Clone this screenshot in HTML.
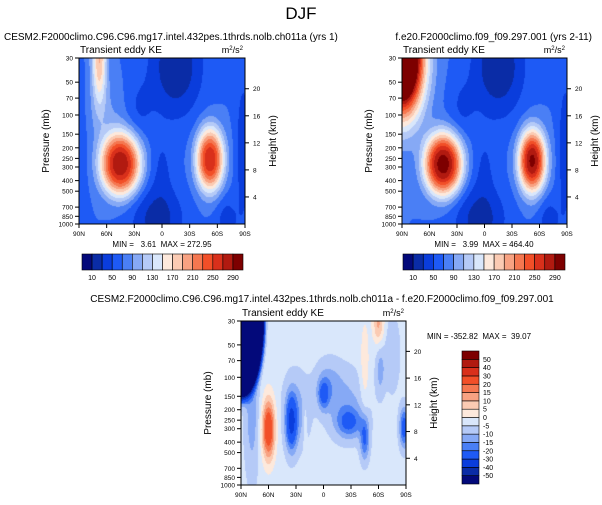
<!DOCTYPE html>
<html><head><meta charset="utf-8"><style>
body{margin:0;width:602px;height:505px;background:#fff;position:relative;overflow:hidden;font-family:"Liberation Sans",sans-serif;}
.t{position:absolute;white-space:nowrap;color:#000;}
canvas{position:absolute;}
text{white-space:pre;}
</style></head><body>
<div class="t" style="left:0;width:602px;text-align:center;top:4px;font-size:17px;">DJF</div>
<svg id="svg" width="602" height="505" style="position:absolute;left:0;top:0"></svg>
<script>
// ---------- data ----------
const latTicks = ["90N","60N","30N","0","30S","60S","90S"];
const presTicks = [30,50,70,100,150,200,250,300,400,500,700,850,1000];
const hgtTicks = [4,8,12,16,20];
const levelsKE = [10,30,50,70,90,110,130,150,170,190,210,230,250,270,290];
const levelsKELabels = ["10","50","90","130","170","210","250","290"];
const levelsDiff = [-50,-40,-30,-20,-15,-10,-5,0,5,10,15,20,30,40,50];
const colors = ["#03097a","#0a2ca6","#0a3ddc","#1e5af5","#4a7ff5","#86a9f5","#b5caf7","#d9e7fb","#fde9dc","#fbcbb3","#f8a282","#f57750","#f24f28","#d9301b","#b11a10","#7d0000"];
// field descriptors: lat centre, vertical pos (0 top..1 bottom), amplitude, lat width, vertical width, shape exponent
const baseTL = 70;
const blobsTL = [
 [45,0.64,215,22,0.19,2.6],[-52,0.61,200,15,0.19,2.4],[68,0.0,120,8,0.28,2],
 [-15,0.05,-60,28,0.3,2],[5,0.97,-50,28,0.2,2],[-88,0.55,-35,8,0.45,2],
 [0,0.65,-20,12,0.2,2],[25,0.3,-20,15,0.18,2],[-70,0.98,-30,12,0.15,2],[88,0.6,-12,8,0.5,2],
 [60,0.35,20,20,0.2,2]];
const baseTR = 70;
const blobsTR = [
 [45,0.64,230,21,0.19,2.6],[-52,0.62,225,15,0.19,2.4],[90,0.0,430,22,0.32,2],
 [-15,0.05,-60,28,0.3,2],[5,0.97,-50,28,0.2,2],[-88,0.55,-35,8,0.45,2],
 [0,0.65,-20,12,0.2,2],[25,0.3,-20,15,0.18,2],[-70,0.98,-30,12,0.15,2]];
const baseB = -3;
const blobsB = [
 [90,0.0,-400,22,0.41,6],[60,0.66,32,7,0.18,2],[35,0.62,-26,6,0.16,2],
 [0,0.45,-16,6,0.09,2],[-28,0.62,-16,14,0.09,2],[-45,0.72,-18,5,0.13,2],
 [-88,0.65,-22,5,0.12,2],[-60,0.02,14,6,0.12,2],[-45,0.3,7,5,0.3,2],
 [78,0.55,-10,8,0.4,2],[-62,0.3,-9,5,0.15,2],[20,0.63,5,2,0.15,2],
 [30,0.55,-9,14,0.22,2],[-25,0.5,-8,22,0.2,2],[-5,0.38,-8,14,0.14,2],[-75,0.2,-7,8,0.22,2]];
// ---------- helpers ----------
const NS="http://www.w3.org/2000/svg";
const svg=document.getElementById('svg');
function S(tag,attrs,txt){const e=document.createElementNS(NS,tag);for(const k in attrs)e.setAttribute(k,attrs[k]);if(txt!==undefined)e.textContent=txt;svg.appendChild(e);return e;}
function yOf(p,top,h){return top+h*Math.log(p/30)/Math.log(1000/30);}
function field(lat,u,base,blobs){let v=base;for(const b of blobs){const dl=(lat-b[0])/b[3],du=(u-b[1])/b[4];v+=b[2]*Math.exp(-Math.pow(dl*dl+du*du,b[5]/2));}return v;}
function colorFor(v,levels){let i=0;while(i<levels.length&&v>=levels[i])i++;return colors[i];}
function panel(name,left,top,w,h,base,blobs,levels){
  const c=document.createElement('canvas');c.width=w;c.height=h;c.style.left=left+'px';c.style.top=top+'px';
  
  
  document.body.insertBefore(c,svg);
  const g=c.getContext('2d');
  for(let j=0;j<h;j++){for(let i=0;i<w;i++){const lat=90-180*(i+0.5)/w;const u=(j+0.5)/h;g.fillStyle=colorFor(field(lat,u,base,blobs),levels);g.fillRect(i,j,1,1);}}
  S('rect',{x:left,y:top,width:w,height:h,fill:'none',stroke:'#000','stroke-width':1,});
  presTicks.forEach(p=>{const y=yOf(p,top,h);
    S('line',{x1:left-4,x2:left,y1:y,y2:y,stroke:'#000'});
    const t=S('text',{x:left-6,y:y+2.5,'font-size':6.5,'text-anchor':'end','font-family':'Liberation Sans'},p);
    });
  latTicks.forEach((l,k)=>{const x=left+w*k/6;
    S('line',{x1:x,x2:x,y1:top+h,y2:top+h+4,stroke:'#000'});
    const t=S('text',{x:x,y:top+h+12,'font-size':6.5,'text-anchor':'middle','font-family':'Liberation Sans'},l);
    });
  hgtTicks.forEach(z=>{const p=1000*Math.exp(-z/7);const y=yOf(p,top,h);
    S('line',{x1:left+w,x2:left+w+4,y1:y,y2:y,stroke:'#000'});
    const t=S('text',{x:left+w+8,y:y+2.5,'font-size':6.5,'font-family':'Liberation Sans'},z);
    });
  let t=S('text',{x:left-30,y:top+h/2,'font-size':10,'text-anchor':'middle','font-family':'Liberation Sans',transform:`rotate(-90 ${left-30} ${top+h/2})`},'Pressure (mb)');
  
  t=S('text',{x:left+w+31,y:top+h/2,'font-size':10,'text-anchor':'middle','font-family':'Liberation Sans',transform:`rotate(-90 ${left+w+31} ${top+h/2})`},'Height (km)');
  
  t=S('text',{x:left+1,y:top-5,'font-size':10,'font-family':'Liberation Sans'},'Transient eddy KE');
  
  t=S('text',{x:left+w-2,y:top-5,'font-size':9,'text-anchor':'end','font-family':'Liberation Sans'});
  t.innerHTML='m<tspan dy="-3" font-size="6">2</tspan><tspan dy="3">/s</tspan><tspan dy="-3" font-size="6">2</tspan>';
  
}
function hbar(name,left,top,w,h){
  const n=colors.length,cw=w/n;
  colors.forEach((c,i)=>{const r=S('rect',{x:left+i*cw,y:top,width:cw,height:h,fill:c,stroke:'#000','stroke-width':0.6});
    });
  levelsKELabels.forEach((l,k)=>{const t=S('text',{x:left+cw*(1+2*k),y:top+h+10,'font-size':7,'text-anchor':'middle','font-family':'Liberation Sans'},l);
    });
}
function vbar(left,top,w,h){
  const n=colors.length,ch=h/n;
  colors.forEach((c,i)=>{const r=S('rect',{x:left,y:top+h-(i+1)*ch,width:w,height:ch,fill:c,stroke:'#000','stroke-width':0.6});
    });
  levelsDiff.forEach((l,k)=>{const t=S('text',{x:left+w+4,y:top+h-(k+1)*ch+2.5,'font-size':7,'font-family':'Liberation Sans'},l);
    });
}
function txt(name,x,y,s,size,anchor){const t=S('text',{x:x,y:y,'font-size':size,'text-anchor':anchor||'start','font-family':'Liberation Sans','xml:space':'preserve'},s);
  }
// ---------- draw ----------
panel('control',79,58,166,166,baseTL,blobsTL,levelsKE);
panel('reference',402,58,165,166,baseTR,blobsTR,levelsKE);
panel('difference',241,321,165,164,baseB,blobsB,levelsDiff);
hbar('control-colorbar',82,254,161,16);
hbar('reference-colorbar',403,254,162,16);
vbar(462,351,17,133);
txt('control-subtitle',4,40,'CESM2.F2000climo.C96.C96.mg17.intel.432pes.1thrds.nolb.ch011a (yrs 1)',10);
txt('reference-subtitle',592,40,'f.e20.F2000climo.f09_f09.297.001 (yrs 2-11)',10,'end');
txt('difference-subtitle',322,302,'CESM2.F2000climo.C96.C96.mg17.intel.432pes.1thrds.nolb.ch011a - f.e20.F2000climo.f09_f09.297.001',10,'middle');
txt('control-minmax',162,247,'MIN =   3.61  MAX = 272.95',8,'middle');
txt('reference-minmax',484,247,'MIN =   3.99  MAX = 464.40',8,'middle');
txt('difference-minmax',427,339,'MIN = -352.82  MAX =  39.07',8);
</script>
</body></html>
